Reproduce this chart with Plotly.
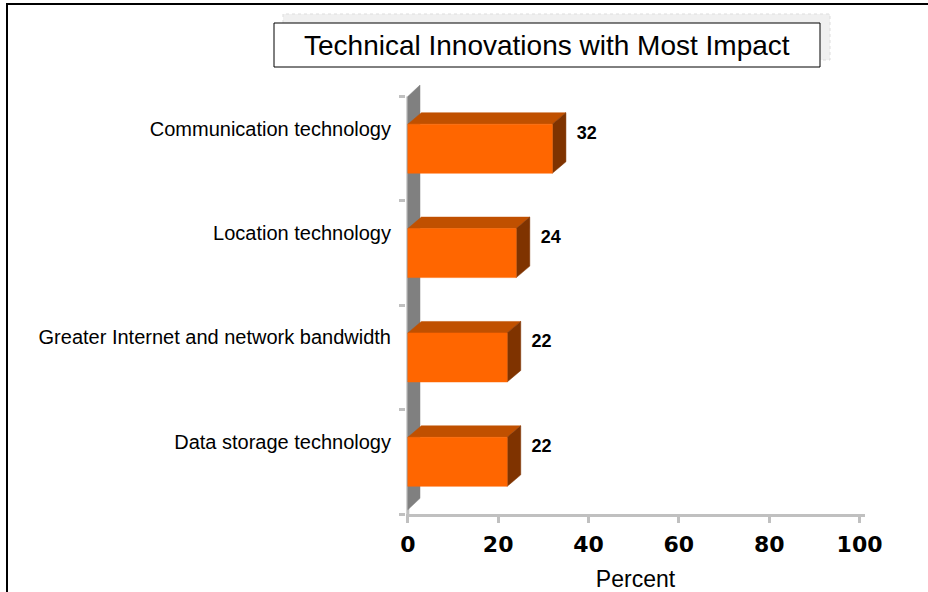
import plotly.graph_objects as go

# ── Data ──────────────────────────────────────────────────────────────────────
CATEGORIES = [
    "Data storage technology",
    "Greater Internet and network bandwidth",
    "Location technology",
    "Communication technology",
]
PERCENT = [22, 22, 24, 32]
X_TICKS = [0, 20, 40, 60, 80, 100]

# ── Style ─────────────────────────────────────────────────────────────────────
W, H = 928, 592
FRONT = "#FF6600"
TOP = "#C05000"
SIDE = "#7F3300"
WALL = "#808080"
AXIS = "#C0C0C0"
DEPTH_X = 3.0     # 3-D depth in x units
DEPTH_Y = 0.11    # 3-D depth in category units
HALF = 0.235      # half bar thickness

# plot-area pixel box
L, R, T, B = 406, 63, 84, 78
X_RANGE = [-0.4, 101.2]
Y_RANGE = [-0.5, 3.62]


def px_x(px):
    return (px - L) / (W - L - R)


def px_y(py):
    return (H - B - py) / (H - T - B)


def poly(xs, ys, color):
    return go.Scatter(
        x=xs + xs[:1], y=ys + ys[:1],
        mode="lines", fill="toself", fillcolor=color,
        line=dict(color=color, width=0.5),
        hoverinfo="skip", showlegend=False,
    )


fig = go.Figure()

# back wall
y0, y1 = -0.46, 3.5
fig.add_trace(poly([0, 0, DEPTH_X * 0.9, DEPTH_X * 0.9],
                   [y0, y1, y1 + DEPTH_Y, y0 + DEPTH_Y], WALL))

# bars: top, side, front faces
for i, v in enumerate(PERCENT):
    lo, hi = i - HALF, i + HALF
    fig.add_trace(poly([0, v, v + DEPTH_X, DEPTH_X],
                       [hi, hi, hi + DEPTH_Y, hi + DEPTH_Y], TOP))
    fig.add_trace(poly([v, v + DEPTH_X, v + DEPTH_X, v],
                       [lo, lo + DEPTH_Y, hi + DEPTH_Y, hi], SIDE))
    fig.add_trace(poly([0, v, v, 0], [lo, lo, hi, hi], FRONT))

# value labels
fig.add_trace(go.Scatter(
    x=[v + DEPTH_X + 2.4 for v in PERCENT],
    y=[i + 0.14 for i in range(len(PERCENT))],
    mode="text",
    text=[str(v) for v in PERCENT],
    textposition="middle right",
    textfont=dict(family="Liberation Sans", size=18, color="black", weight="bold"),
    hoverinfo="skip", showlegend=False,
))

fig.update_layout(
    width=W, height=H,
    paper_bgcolor="white", plot_bgcolor="white",
    margin=dict(l=L, r=R, t=T, b=B),
    showlegend=False,
    font=dict(family="Liberation Sans", color="black"),
    xaxis=dict(
        range=X_RANGE, tickvals=X_TICKS, automargin=False,
        showgrid=False, zeroline=False,
        showline=True, linecolor=AXIS, linewidth=3,
        ticks="outside", ticklen=6, tickwidth=3, tickcolor=AXIS,
        tickfont=dict(family="DejaVu Sans", size=22, weight="bold", color="black"),
        ticklabelstandoff=3,
        title=dict(text="Percent", font=dict(family="Liberation Sans", size=23),
                   standoff=18),
    ),
    yaxis=dict(
        range=Y_RANGE, automargin=False,
        tickvals=list(range(len(CATEGORIES))), ticktext=CATEGORIES,
        showgrid=False, zeroline=False, showline=False,
        ticks="", ticklabelshift=-20, ticklabelstandoff=14,
        tickfont=dict(family="Liberation Sans", size=20, color="black"),
        minor=dict(tickvals=[-0.5, 0.5, 1.5, 2.5, 3.5], ticks="outside",
                   ticklen=6, tickwidth=3, tickcolor=AXIS, showgrid=False),
    ),
    shapes=[
        # y axis line
        dict(type="line", xref="x", yref="y", x0=0, x1=0, y0=-0.5, y1=3.5,
             line=dict(color=AXIS, width=3), layer="below"),
        # outer frame
        dict(type="rect", xref="paper", yref="paper",
             x0=px_x(7), x1=px_x(960), y0=px_y(620), y1=px_y(4),
             line=dict(color="black", width=2)),
        # title shadow
        dict(type="rect", xref="paper", yref="paper",
             x0=px_x(283), x1=px_x(830), y0=px_y(60), y1=px_y(14),
             fillcolor="#F0F0F0", line=dict(color="#DDDDDD", width=1, dash="dot")),
        # title box
        dict(type="rect", xref="paper", yref="paper",
             x0=px_x(274), x1=px_x(820), y0=px_y(67), y1=px_y(23),
             fillcolor="white", line=dict(color="black", width=1)),
    ],
    annotations=[
        dict(text="Technical Innovations with Most Impact",
             xref="paper", yref="paper", x=px_x(547), y=px_y(45),
             showarrow=False, xanchor="center", yanchor="middle",
             font=dict(family="Liberation Sans", size=28, color="black")),
    ],
)

fig.write_html("out.html", config={"displayModeBar": False},
               post_script="document.body.style.margin='0';")
